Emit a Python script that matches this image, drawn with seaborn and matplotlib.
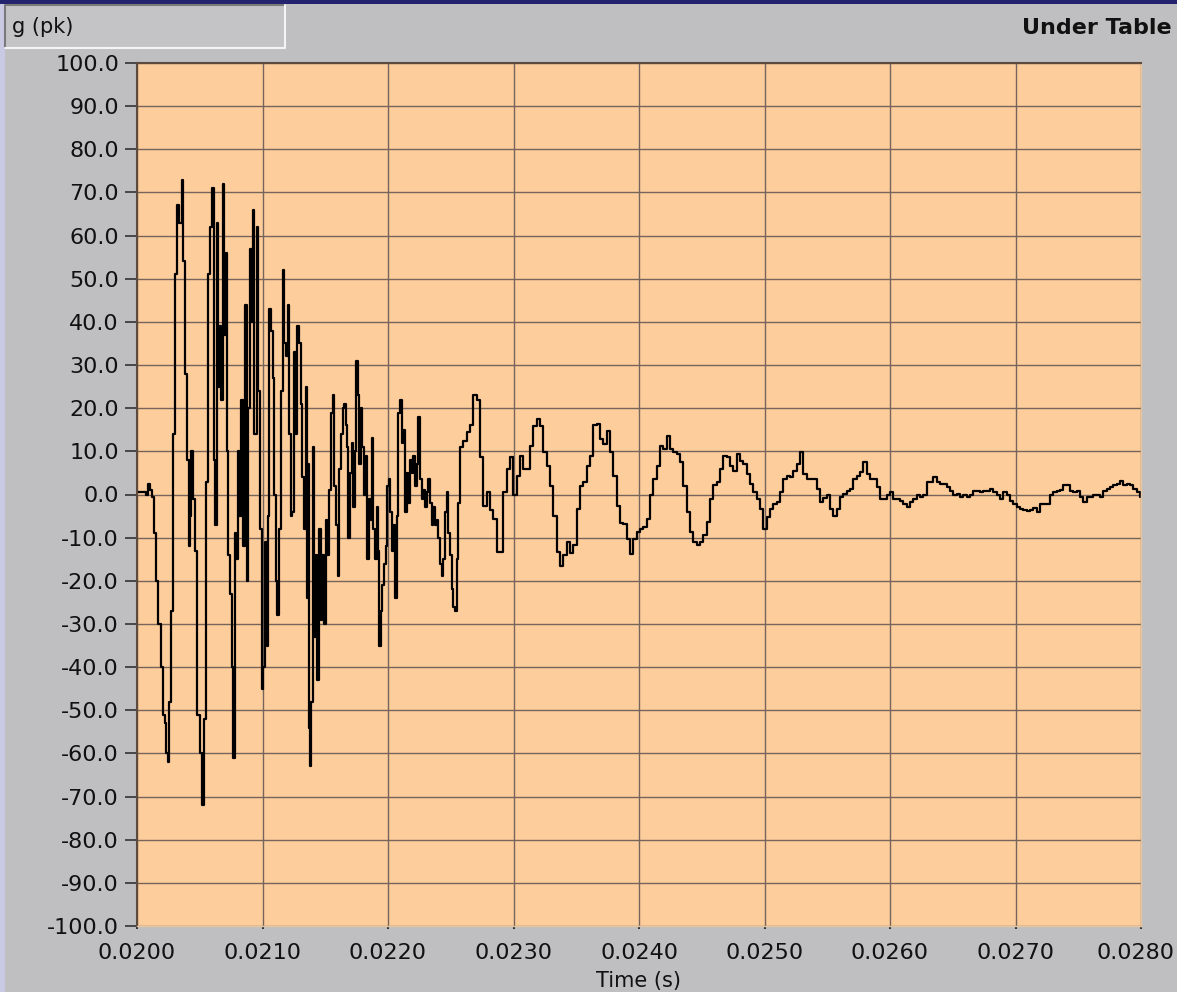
import numpy as np
import pandas as pd
import matplotlib
matplotlib.use('Agg')
import matplotlib.pyplot as plt
import matplotlib.transforms as mtransforms
import seaborn as sns
from matplotlib.patches import Rectangle
from matplotlib.lines import Line2D

# ------------------------------------------------------------------
# Data
# ------------------------------------------------------------------
# dense start of the shock: irregular vertices (time in s, g)
t_head = [0.0200000, 0.0200717, 0.0200876, 0.0201036, 0.0201195, 0.0201355, 0.0201514, 0.0201713,
          0.0201912, 0.0202072, 0.0202231, 0.0202311, 0.0202470, 0.0202550, 0.0202709, 0.0202829,
          0.0203028, 0.0203187, 0.0203347, 0.0203546, 0.0203665, 0.0203825, 0.0203984, 0.0204143,
          0.0204223, 0.0204303, 0.0204462, 0.0204582, 0.0204781, 0.0205020, 0.0205179, 0.0205339,
          0.0205498, 0.0205657, 0.0205817, 0.0205976, 0.0206135, 0.0206215, 0.0206335, 0.0206454,
          0.0206614, 0.0206693, 0.0206853, 0.0206932, 0.0207092, 0.0207171, 0.0207251, 0.0207410,
          0.0207530, 0.0207649, 0.0207809, 0.0207888, 0.0208048, 0.0208127, 0.0208287, 0.0208446,
          0.0208606, 0.0208741, 0.0208868, 0.0209004, 0.0209139, 0.0209219, 0.0209323, 0.0209538,
          0.0209665, 0.0209801, 0.0209936, 0.0210064, 0.0210199, 0.0210335, 0.0210462, 0.0210542,
          0.0210677, 0.0210813, 0.0210916, 0.0211052, 0.0211179, 0.0211339, 0.0211474, 0.0211610,
          0.0211737, 0.0211872, 0.0212008, 0.0212135, 0.0212247, 0.0212374, 0.0212510, 0.0212645,
          0.0212773, 0.0212908, 0.0213044, 0.0213171, 0.0213307, 0.0213442, 0.0213522, 0.0213602,
          0.0213705, 0.0213785, 0.0213865, 0.0214000, 0.0214104, 0.0214239, 0.0214367, 0.0214502,
          0.0214637, 0.0214765, 0.0214900, 0.0215036, 0.0215163, 0.0215299, 0.0215434, 0.0215594,
          0.0215721, 0.0215857, 0.0215992, 0.0216120, 0.0216255, 0.0216390, 0.0216518, 0.0216653,
          0.0216733, 0.0216837, 0.0216972, 0.0217108, 0.0217235, 0.0217370, 0.0217450, 0.0217586,
          0.0217689, 0.0217825, 0.0217952, 0.0218088, 0.0218223, 0.0218351, 0.0218486, 0.0218622,
          0.0218749, 0.0218829, 0.0218964, 0.0219100, 0.0219227, 0.0219307, 0.0219442, 0.0219546,
          0.0219681, 0.0219817, 0.0219944, 0.0220056, 0.0220183, 0.0220295, 0.0220422, 0.0220558,
          0.0220693, 0.0220821, 0.0220956, 0.0221092, 0.0221219, 0.0221355, 0.0221490, 0.0221617,
          0.0221753, 0.0221888, 0.0222016, 0.0222151, 0.0222287, 0.0222414, 0.0222550, 0.0222685,
          0.0222813, 0.0222948, 0.0223084, 0.0223211, 0.0223346, 0.0223482, 0.0223609, 0.0223745,
          0.0223880, 0.0224008, 0.0224143, 0.0224279, 0.0224406, 0.0224542, 0.0224677, 0.0224805,
          0.0224940, 0.0225075, 0.0225203, 0.0225338, 0.0225474, 0.0225601]
g_head = [0.5, 0, 2.5, 1, -0.5, -9, -20, -30,
          -40, -51, -53, -60, -62, -48, -27, 14,
          51, 67, 63, 73, 54, 28, 8, -12,
          -5, 10, -1, -13, -51, -60, -72, -52,
          3, 51, 62, 71, 8, -7, 63, 25,
          39, 22, 72, 37, 56, 10, -14, -23,
          -40, -61, -9, -15, 10, -5, 22, -12,
          44, -20, 20, 57, 40, 66, 14, 62,
          24, -8, -45, -40, -11, -35, -5, 43,
          38, 27, 0, -20, -28, -8, 24, 52,
          35, 32, 44, 14, -5, -4, 33, 14,
          39, 35, 21, 4, -8, 25, -24, 7,
          -54, -63, -48, 11, -33, -14, -43, -8,
          -29, -14, -30, -6, -14, 1, 19, 23,
          2, -7, -19, 6, 14, 20, 21, 16,
          11, -10, 5, 12, -3, 10, 31, 23,
          7, 20, 11, 0, 9, -15, -1, -6,
          13, -8, -15, -3, -13, -35, -27, -21,
          -16, -12, 2, 3.5, -4, -13, -7, -24,
          -5, 19, 22, 12, 15, -4, 5, -2,
          8, 5, 9, 2, 7, 18, 3.5, -1,
          1, -3, 0.5, 3.5, -2, -7, -3, -7,
          -6, -10, -16, -19, -15, -4, 0.5, -9,
          -14, -22, -26, -27, -15, -2]

# ringing tail: evenly spaced samples from 0.022574 s to 0.027992 s
g_tail = [11, 12.5, 14.6, 16, 23, 22, 8.6, -2.6, 0.5, -3.5,
          -5.6, -13.4, -13.4, 0.5, 5.9, 8.6, 0, 4.4, 9, 5.9,
          5.9, 11.3, 15.9, 17.5, 15.9, 9.8, 6.7, 2, -4.9, -13.4,
          -16.5, -14, -11, -13.5, -11.8, -3.3, 2, 2.8, 6.7, 9,
          16, 16.3, 12.8, 11.7, 14.8, 9.8, 4.4, -2.6, -6.5, -6.8,
          -10.3, -13.8, -10.3, -8.8, -8, -7.6, -5.6, -0.2, 3.6, 6.7,
          11.3, 10.6, 13.6, 10.6, 9.8, 9.4, 7.5,
          2, -4, -8.7, -11, -11.7, -11, -9.5, -6.4, -1, 2.1,
          2.9, 6, 9, 8.6, 6.6, 5.5, 9.4, 7.8, 7, 4.7,
          2.4, 0.5, -1, -3.3, -8, -5.3, -3.3, -2.1, -1.8, 0.5,
          3.6, 4.4, 4, 5.5, 7, 9.8, 4.7, 3.6, 3.6, 3.6,
          1.3, -1.8, -0.9, -0.2, -3.3, -4.9, -3.3, -0.6, 0.2, 0.9,
          1.3, 3.6, 4.4, 5.1, 7.5, 4.7, 3.6, 3.6, 1.7, -1,
          -1, -0.2, 0.5, -1, -1, -1.4, -2.1, -2.9, -1.8, -1,
          -0.2, -0.5,
          -0.2, 2.8, 2.8, 4, 2.8, 2.5, 2.5, 1.7, 0.9, -0.2,
          0.2, -0.6, -0.2, -0.6, -0.2, 0.8, 0.9, 0.5, 0.8, 0.8,
          1.3, 0.5, -0.2, -1, 0.5, -0.2, -1.4, -2.2, -3, -3.3,
          -3.7, -3.9, -3.7, -3.1, -4.1, -2.2, -2.2, -2.2, -0.2, 0.5,
          0.9, 1.1, 2.1, 2.3, 0.9, 0.5, 0.8, -0.6, -1.8, -0.6,
          -0.5, -0.2, -0.2, -0.5, 0.9, 1.3, 1.7, 2.1, 2.5, 3.1,
          2.1, 2.5, 2.1, 1.3, 0.5, -0.5]
t_tail = np.linspace(0.022574, 0.027992, len(g_tail))

x_ticks = [0.0200, 0.0210, 0.0220, 0.0230, 0.0240, 0.0250, 0.0260, 0.0270, 0.0280]
y_ticks = list(range(-100, 101, 10))

df = pd.DataFrame({'time': np.concatenate([t_head, t_tail]),
                   'g': np.concatenate([g_head, g_tail])})

# ------------------------------------------------------------------
# Style
# ------------------------------------------------------------------
BG = '#bfbfc1'
PLOT_BG = '#fecd9c'
GRID = '#76655a'
EDGE = '#5c4b3c'
TXT = '#111111'

sns.set_theme(style='white')
plt.rcParams['font.family'] = ['DejaVu Sans']

W, H = 1177, 992
fig = plt.figure(figsize=(W / 100, H / 100), dpi=100, facecolor=BG)

# window-edge remnants
fig.patches.append(Rectangle((0, 1 - 4 / H), 1, 4 / H, transform=fig.transFigure,
                             facecolor='#22226e', edgecolor='none'))
fig.patches.append(Rectangle((0, 0), 5 / W, 1 - 4 / H, transform=fig.transFigure,
                             facecolor='#c9c9e4', edgecolor='none'))

# plot area
ax = fig.add_axes([137 / W, 1 - 926 / H, (1141 - 137) / W, (926 - 63) / H])
ax.set_facecolor(PLOT_BG)
sns.lineplot(data=df, x='time', y='g', ax=ax, color='black', lw=1.6,
             estimator=None, sort=False, drawstyle='steps-post')

ax.set_xlim(0.0200, 0.0280)
ax.set_ylim(-100, 100)
ax.set_xticks(x_ticks)
ax.set_xticklabels([f'{v:.4f}' for v in x_ticks])
ax.set_yticks(y_ticks)
ax.set_yticklabels([f'{v:.1f}' for v in y_ticks])
ax.grid(True, color=GRID, lw=1.0)
ax.set_axisbelow(True)

ax.tick_params(axis='y', direction='out', length=9, width=1.2, color='#333333',
               pad=4, labelsize=16, labelcolor=TXT, left=True)
ax.tick_params(axis='x', direction='out', length=2, width=1.5, color='#333333',
               pad=10, labelsize=16, labelcolor=TXT, bottom=True)
for side in ['left', 'top']:
    ax.spines[side].set_color(EDGE)
    ax.spines[side].set_linewidth(1.5)
for side in ['bottom', 'right']:
    ax.spines[side].set_color('#e6c6a0')
    ax.spines[side].set_linewidth(1.0)

# keep the last x label inside the figure
last = ax.get_xticklabels()[-1]
last.set_transform(last.get_transform() +
                   mtransforms.ScaledTranslation(-5 / 100, 0, fig.dpi_scale_trans))

ax.set_xlabel('Time (s)', fontsize=15, color=TXT, labelpad=6)
ax.set_ylabel('')

# title box "g (pk)"
bx0, bx1, by0, by1 = 5 / W, 285 / W, 1 - 48 / H, 1 - 5 / H
fig.patches.append(Rectangle((bx0, by0), bx1 - bx0, by1 - by0, transform=fig.transFigure,
                             facecolor='#c4c4c6', edgecolor='none'))
fig.lines.append(Line2D([bx0, bx0, bx1], [by0, by1, by1], transform=fig.transFigure,
                        color='#7a7a7a', lw=1.5))
fig.lines.append(Line2D([bx0, bx1, bx1], [by0, by0, by1], transform=fig.transFigure,
                        color='#f4f4f4', lw=1.5))
fig.text(12 / W, 1 - 27 / H, 'g (pk)', fontsize=15, color=TXT, ha='left', va='center')

fig.text(1172 / W, 1 - 28 / H, 'Under Table', fontsize=16, fontweight='bold',
         color=TXT, ha='right', va='center')

fig.savefig('out.png', dpi=100, facecolor=BG)
